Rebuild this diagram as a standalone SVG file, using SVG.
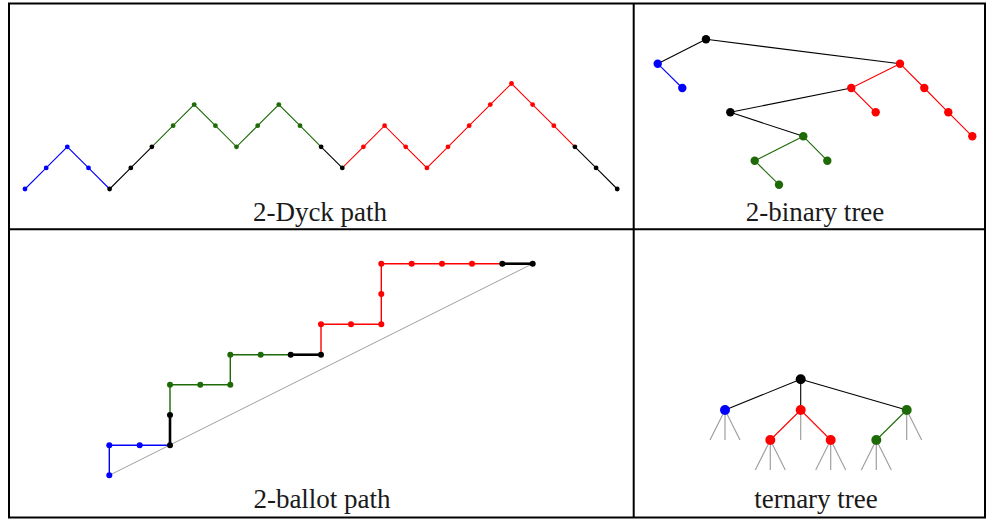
<svg xmlns="http://www.w3.org/2000/svg" width="987" height="521" viewBox="0 0 987 521">
<style>
.frame{fill:none;stroke:#000;stroke-width:2}
.lbl{font-family:"Liberation Serif","Times New Roman",serif;font-size:27px;fill:#1a1a1a;text-anchor:middle}
.b{stroke:#0000ff;fill:none}
.k{stroke:#000;fill:none}
.r{stroke:#ff0000;fill:none}
.g{stroke:#1d6a06;fill:none}
.gray{stroke:#a0a0a0;fill:none}
.fb{fill:#0000ff}
.fk{fill:#000}
.fr{fill:#ff0000}
.fg{fill:#1d6a06}
</style>
<rect width="987" height="521" fill="#fff"/>
<g id="frame">
<rect class="frame" x="9" y="3.5" width="976" height="514"/>
<line class="frame" x1="633.7" y1="3.5" x2="633.7" y2="517.5"/>
<line class="frame" x1="9" y1="229.3" x2="985" y2="229.3"/>
</g>

<g id="dyck-path">
<g id="dyck-connectors" stroke-width="1.1">
<polyline class="b" points="25,189 46.2,167.9 67.3,146.8 88.5,167.9 109.6,189"/>
<polyline class="k" points="109.6,189 130.8,167.9 151.9,146.8"/>
<polyline class="g" points="151.9,146.8 173.1,125.7 194.2,104.6 215.4,125.7 236.5,146.8 257.7,125.7 278.8,104.6 300,125.7 321.1,146.8"/>
<polyline class="k" points="321.1,146.8 342.3,167.9"/>
<polyline class="r" points="342.3,167.9 363.4,146.8 384.6,125.7 405.7,146.8 426.9,167.9 448,146.8 469.2,125.7 490.3,104.6 511.5,83.5 532.6,104.6 553.8,125.7 574.9,146.8"/>
<polyline class="k" points="574.9,146.8 596.1,167.9 617.2,189"/>
</g>
<g id="dyck-nodes">
<g class="fb"><circle cx="25" cy="189" r="2.4"/><circle cx="46.2" cy="167.9" r="2.4"/><circle cx="67.3" cy="146.8" r="2.4"/><circle cx="88.5" cy="167.9" r="2.4"/></g>
<g class="fk"><circle cx="109.6" cy="189" r="2.4"/><circle cx="130.8" cy="167.9" r="2.4"/><circle cx="151.9" cy="146.8" r="2.4"/><circle cx="321.1" cy="146.8" r="2.4"/><circle cx="342.3" cy="167.9" r="2.4"/><circle cx="574.9" cy="146.8" r="2.4"/><circle cx="596.1" cy="167.9" r="2.4"/><circle cx="617.2" cy="189" r="2.4"/></g>
<g class="fg"><circle cx="173.1" cy="125.7" r="2.4"/><circle cx="194.2" cy="104.6" r="2.4"/><circle cx="215.4" cy="125.7" r="2.4"/><circle cx="236.5" cy="146.8" r="2.4"/><circle cx="257.7" cy="125.7" r="2.4"/><circle cx="278.8" cy="104.6" r="2.4"/><circle cx="300" cy="125.7" r="2.4"/></g>
<g class="fr"><circle cx="363.4" cy="146.8" r="2.4"/><circle cx="384.6" cy="125.7" r="2.4"/><circle cx="405.7" cy="146.8" r="2.4"/><circle cx="426.9" cy="167.9" r="2.4"/><circle cx="448" cy="146.8" r="2.4"/><circle cx="469.2" cy="125.7" r="2.4"/><circle cx="490.3" cy="104.6" r="2.4"/><circle cx="511.5" cy="83.5" r="2.4"/><circle cx="532.6" cy="104.6" r="2.4"/><circle cx="553.8" cy="125.7" r="2.4"/></g>
</g>
<text class="lbl" x="320" y="221">2-Dyck path</text>
</g>

<g id="binary-tree">
<g id="binary-connectors" stroke-width="1.1">
<line class="k" x1="706" y1="39.3" x2="657.7" y2="63.7"/>
<line class="b" x1="657.7" y1="63.7" x2="682.3" y2="88"/>
<line class="k" x1="706" y1="39.3" x2="900" y2="63.7"/>
<line class="r" x1="900" y1="63.7" x2="851.3" y2="88"/>
<line class="r" x1="851.3" y1="88" x2="875.7" y2="112.3"/>
<polyline class="r" points="900,63.7 924.3,88 948.3,112.3 972.3,136.3"/>
<line class="k" x1="851.3" y1="88" x2="730.3" y2="112.3"/>
<line class="k" x1="730.3" y1="112.3" x2="803.3" y2="136.3"/>
<line class="g" x1="803.3" y1="136.3" x2="754.7" y2="160.7"/>
<line class="g" x1="803.3" y1="136.3" x2="827.3" y2="160.7"/>
<line class="g" x1="754.7" y1="160.7" x2="779" y2="184.7"/>
</g>
<g id="binary-nodes">
<circle class="fk" cx="706" cy="39.3" r="4.2"/>
<circle class="fb" cx="657.7" cy="63.7" r="4.2"/>
<circle class="fb" cx="682.3" cy="88" r="4.2"/>
<circle class="fr" cx="900" cy="63.7" r="4.2"/>
<circle class="fr" cx="851.3" cy="88" r="4.2"/>
<circle class="fr" cx="875.7" cy="112.3" r="4.2"/>
<circle class="fr" cx="924.3" cy="88" r="4.2"/>
<circle class="fr" cx="948.3" cy="112.3" r="4.2"/>
<circle class="fr" cx="972.3" cy="136.3" r="4.2"/>
<circle class="fk" cx="730.3" cy="112.3" r="4.2"/>
<circle class="fg" cx="803.3" cy="136.3" r="4.2"/>
<circle class="fg" cx="754.7" cy="160.7" r="4.2"/>
<circle class="fg" cx="827.3" cy="160.7" r="4.2"/>
<circle class="fg" cx="779" cy="184.7" r="4.2"/>
</g>
<text class="lbl" x="815" y="221">2-binary tree</text>
</g>

<g id="ballot-path">
<g id="ballot-connectors">
<line class="gray" stroke="#999" stroke-width="1" x1="109.3" y1="475.3" x2="532.7" y2="263.7"/>
<polyline class="b" stroke-width="1.4" points="109.3,475.3 109.3,445.3 170,445.3"/>
<line class="k" stroke-width="2.6" x1="170" y1="445.3" x2="170" y2="415"/>
<polyline class="g" stroke-width="1.4" points="170,415 170,384.7 230.3,384.7 230.3,354.7 290.7,354.7"/>
<line class="k" stroke-width="2.6" x1="290.7" y1="354.7" x2="321" y2="354.7"/>
<polyline class="r" stroke-width="1.4" points="321,354.7 321,324.3 381.3,324.3 381.3,263.7 502.3,263.7"/>
<line class="k" stroke-width="2.6" x1="502.3" y1="263.7" x2="532.7" y2="263.7"/>
</g>
<g id="ballot-nodes">
<g class="fb"><circle cx="109.3" cy="475.3" r="3"/><circle cx="109.3" cy="445.3" r="3"/><circle cx="139.7" cy="445.3" r="3"/></g>
<g class="fk"><circle cx="170" cy="445.3" r="3"/><circle cx="170" cy="415" r="3"/><circle cx="290.7" cy="354.7" r="3"/><circle cx="321" cy="354.7" r="3"/><circle cx="502.3" cy="263.7" r="3"/><circle cx="532.7" cy="263.7" r="3"/></g>
<g class="fg"><circle cx="170" cy="384.7" r="3"/><circle cx="200.3" cy="384.7" r="3"/><circle cx="230.3" cy="384.7" r="3"/><circle cx="230.3" cy="354.7" r="3"/><circle cx="260.7" cy="354.7" r="3"/></g>
<g class="fr"><circle cx="321" cy="324.3" r="3"/><circle cx="351" cy="324.3" r="3"/><circle cx="381.3" cy="324.3" r="3"/><circle cx="381.3" cy="294" r="3"/><circle cx="381.3" cy="263.7" r="3"/><circle cx="411.7" cy="263.7" r="3"/><circle cx="442" cy="263.7" r="3"/><circle cx="472" cy="263.7" r="3"/></g>
</g>
<text class="lbl" x="322" y="508">2-ballot path</text>
</g>

<g id="ternary-tree">
<g id="ternary-connectors" stroke-width="1.1">
<g class="gray" stroke-width="1.2">
<path d="M725,410 L710,440 M725,410 L725,440 M725,410 L740,440"/>
<path d="M800.7,410 L800.7,440"/>
<path d="M906.7,410 L906.7,440 M906.7,410 L921.7,440"/>
<path d="M770.3,440 L755.3,470 M770.3,440 L770.3,470 M770.3,440 L785.3,470"/>
<path d="M830.7,440 L815.7,470 M830.7,440 L830.7,470 M830.7,440 L845.7,470"/>
<path d="M876.3,440 L861.3,470 M876.3,440 L876.3,470 M876.3,440 L891.3,470"/>
</g>
<line class="k" x1="800.7" y1="379.3" x2="725" y2="410"/>
<line class="k" x1="800.7" y1="379.3" x2="800.7" y2="410"/>
<line class="k" x1="800.7" y1="379.3" x2="906.7" y2="410"/>
<line class="r" x1="800.7" y1="410" x2="770.3" y2="440"/>
<line class="r" x1="800.7" y1="410" x2="830.7" y2="440"/>
<line class="g" x1="906.7" y1="410" x2="876.3" y2="440"/>
</g>
<g id="ternary-nodes">
<circle class="fk" cx="800.7" cy="379.3" r="5"/>
<circle class="fb" cx="725" cy="410" r="5"/>
<circle class="fr" cx="800.7" cy="410" r="5"/>
<circle class="fg" cx="906.7" cy="410" r="5"/>
<circle class="fr" cx="770.3" cy="440" r="5"/>
<circle class="fr" cx="830.7" cy="440" r="5"/>
<circle class="fg" cx="876.3" cy="440" r="5"/>
</g>
<text class="lbl" x="816" y="508">ternary tree</text>
</g>
</svg>
